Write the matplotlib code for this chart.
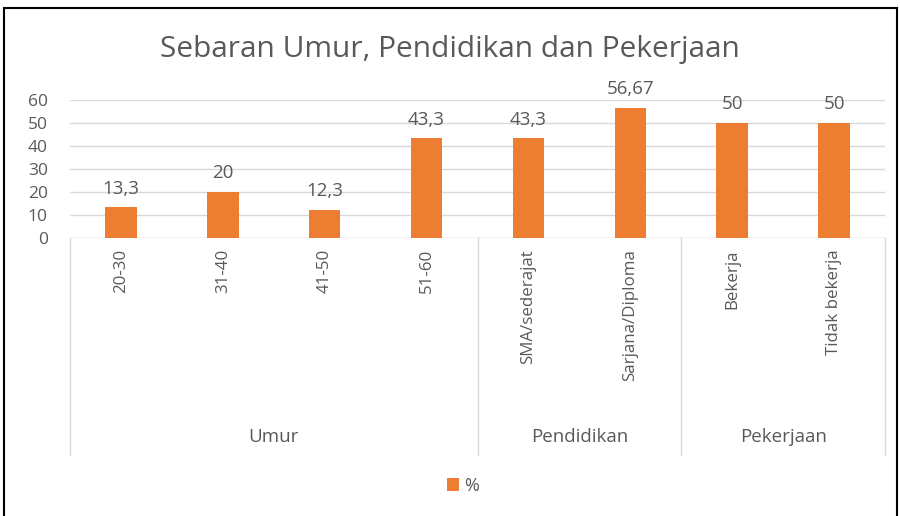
import matplotlib.pyplot as plt
from matplotlib.patches import Rectangle
from matplotlib.lines import Line2D

# data
categories = ["20-30", "31-40", "41-50", "51-60", "SMA/sederajat", "Sarjana/Diploma", "Bekerja", "Tidak bekerja"]
values = [13.3, 20, 12.3, 43.3, 43.3, 56.67, 50, 50]
groups = ["Umur", "Pendidikan", "Pekerjaan"]
group_sizes = [4, 2, 2]

plt.rcParams['font.family'] = ['Open Sans', 'DejaVu Sans']
txt = '#595959'
orange = '#ED7D31'

fig = plt.figure(figsize=(9, 5.16), dpi=100)
ax = fig.add_axes([70/900, 1-238/516, 815/900, 138/516])

x = list(range(len(categories)))
ax.bar(x, values, width=0.31, color=orange, label='%', zorder=3)
for xi, v in zip(x, values):
    ax.annotate(f"{v:g}".replace('.', ','), (xi, v), xytext=(0, 7), textcoords='offset points',
                ha='center', va='bottom', fontsize=13.5, color=txt)

ax.set_xlim(-0.5, len(categories) - 0.5)
ax.set_ylim(0, 60)
ax.set_yticks(range(0, 61, 10))
ax.tick_params(axis='y', length=0, labelsize=12.5, labelcolor=txt, pad=16)
ax.set_xticks([])
ax.grid(axis='y', color='#d9d9d9', linewidth=1, zorder=0)
for s in ax.spines.values():
    s.set_visible(False)
ax.axhline(0, color='#d9d9d9', linewidth=1, zorder=2)

# first level labels (rotated)
for xi, c in zip(x, categories):
    ax.annotate(c, (xi, 0), xytext=(0, -8), textcoords='offset points', rotation=90,
                ha='center', va='top', fontsize=12.2, color=txt, annotation_clip=False)

# group separators and labels
depth = -217/138
start = -0.5
bounds = [start]
for g, n in zip(groups, group_sizes):
    end = start + n
    ax.text((start + end) / 2, -(437-238)/138, g, transform=ax.get_xaxis_transform(),
            ha='center', va='center', fontsize=13.5, color=txt)
    bounds.append(end)
    start = end
for b in bounds:
    ax.add_line(Line2D([b, b], [0, depth], transform=ax.get_xaxis_transform(),
                       color='#d9d9d9', linewidth=1, clip_on=False))

fig.suptitle("Sebaran Umur, Pendidikan dan Pekerjaan", y=1-50/516, va='center',
             fontsize=21.5, color=txt)

fig.legend(loc='center', bbox_to_anchor=(463/900, 1-486/516), frameon=False,
           fontsize=13, labelcolor=txt, handlelength=0.7, handleheight=0.7, handletextpad=0.3)

fig.patches.append(Rectangle((4/900, -0.02), 893/900, 1.012-4/516, transform=fig.transFigure,
                             fill=False, edgecolor='black', linewidth=1.5))

plt.savefig('out.png', dpi=100)
